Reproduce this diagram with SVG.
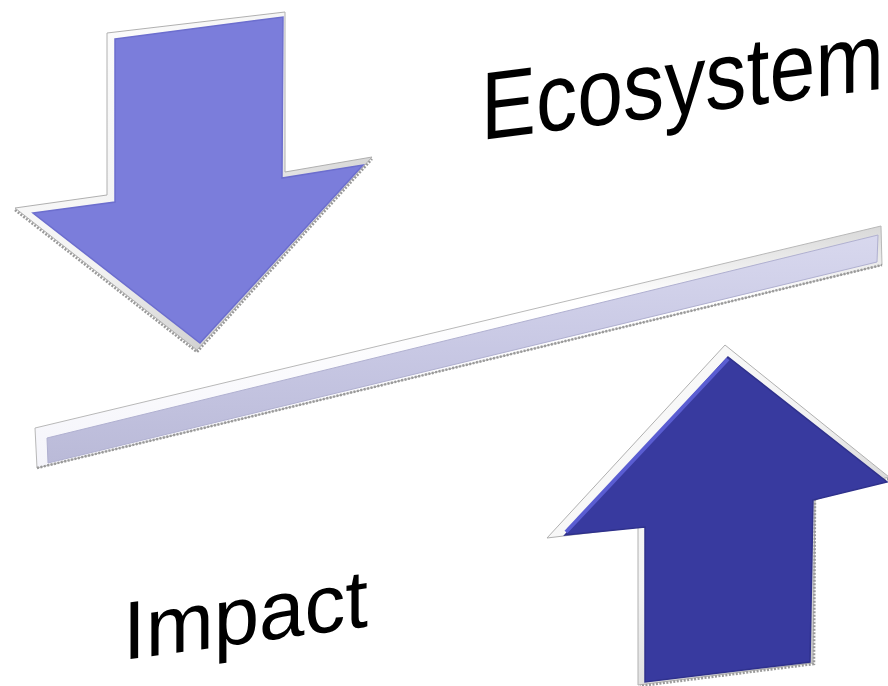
<svg xmlns="http://www.w3.org/2000/svg" width="888" height="686" viewBox="0 0 888 686">
  <defs>
    <linearGradient id="silver" x1="0" y1="0" x2="1" y2="1">
      <stop offset="0" stop-color="#ffffff"/>
      <stop offset="0.5" stop-color="#f2f2f2"/>
      <stop offset="1" stop-color="#b4b4b4"/>
    </linearGradient>
    <linearGradient id="barFill" x1="0" y1="0" x2="0" y2="1">
      <stop offset="0" stop-color="#d8d8ee"/>
      <stop offset="0.5" stop-color="#c8c8e4"/>
      <stop offset="1" stop-color="#babad8"/>
    </linearGradient>
    <linearGradient id="barTop" x1="0" y1="0" x2="0" y2="1">
      <stop offset="0" stop-color="#d8d8d8"/>
      <stop offset="0.3" stop-color="#ffffff"/>
      <stop offset="1" stop-color="#f4f4fa"/>
    </linearGradient>
  </defs>
  <style>
    .bevel { fill: url(#silver); stroke: #b0b0b0; stroke-width: 1; }
    .edge { fill: none; stroke: #9a9a9a; stroke-width: 2.5; stroke-dasharray: 2 1.5; }
    .label { font-family: "Liberation Sans", Arial, sans-serif; font-size: 80px; fill: #000000; }
  </style>
  <rect width="888" height="686" fill="#ffffff"/>

  <g id="arrow-down">
    <polygon class="bevel" points="107,33 285,12 285,172 372,157 197,350 15,208 107,195"/>
    <polyline class="edge" points="15,210 197,352 372,159"/>
    <polygon points="115,39 283,17 282,178 363,165 200,343 33,213 115,202" fill="#7b7ddb" stroke="#6c6ece" stroke-width="1.5"/>
  </g>

  <g id="bar">
    <polygon points="35,428 881,226 882,265 37,468" fill="url(#barTop)" stroke="#b8b8b8" stroke-width="1"/>
    <polyline class="edge" points="37,468 882,265"/>
    <polygon points="47,438 878,235 877,262 48,463" fill="url(#barFill)" stroke="#b0b0d0" stroke-width="1"/>
  </g>

  <g id="arrow-up">
    <polygon class="bevel" points="725,345 889,477 815,497 813,663 638,685 638,527 547,538"/>
    <polyline class="edge" points="889,479 815,499 814,664 640,686"/>
    <polygon points="728,357 887,482 813,500 810,662 645,682 645,527 565,535" fill="#383a9f" stroke="#2f318c" stroke-width="1.5"/>
    <polyline points="566,532 728,359" fill="none" stroke="#5a5dd2" stroke-width="4"/>
  </g>

  <g id="label-ecosystem">
    <text class="label" transform="translate(481,140) skewY(-7.3) scale(1.03,1.2)" x="0" y="0">Ecosystem</text>
  </g>

  <g id="label-impact">
    <text class="label" transform="translate(123,660) skewY(-7.8) scale(1.02,1.03)" x="0" y="0">Impact</text>
  </g>
</svg>
